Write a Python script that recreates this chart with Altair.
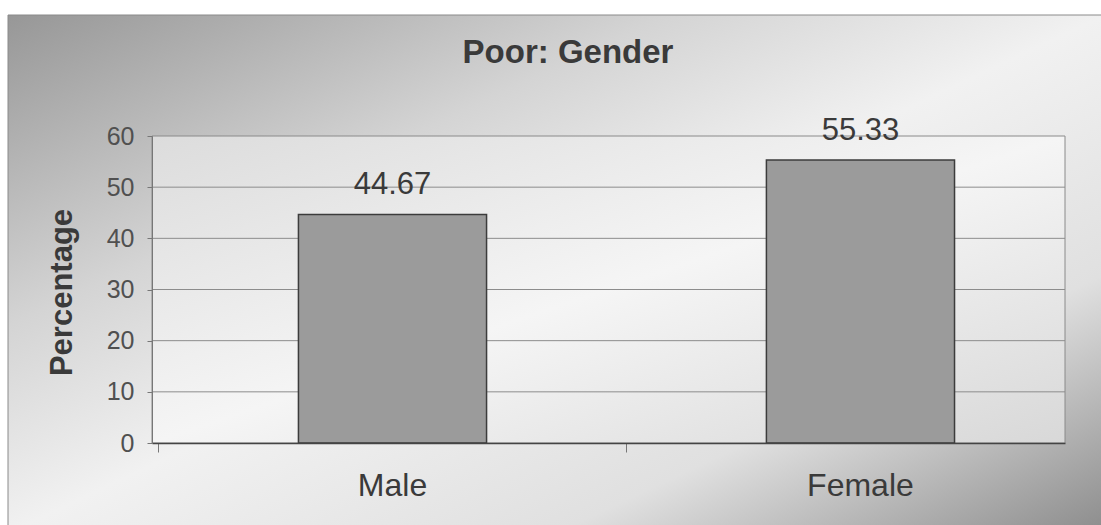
import altair as alt
import pandas as pd

categories = ["Male", "Female"]
values = [44.67, 55.33]
label_texts = ["44.67", "55.33"]
grid_values = [10, 20, 30, 40, 50]
y_ticks = [0, 10, 20, 30, 40, 50, 60]
title_text = ["Poor: Gender"]

W, H = 913, 307
FONT = "Liberation Sans"

bars_df = pd.DataFrame({"cat": categories, "val": values, "lab": label_texts})
grid_df = pd.DataFrame({"g": grid_values})
title_df = pd.DataFrame({"t": title_text})

xscale = alt.Scale(domain=categories, paddingInner=0.598, paddingOuter=0.2745, align=0.57)
yscale = alt.Scale(domain=[0, 60], nice=False, zero=True)

outer_grad = alt.LinearGradient(
    gradient="linear", x1=0, y1=0, x2=1, y2=1,
    stops=[
        alt.GradientStop(offset=0, color="#979797"),
        alt.GradientStop(offset=0.3, color="#d4d4d4"),
        alt.GradientStop(offset=0.5, color="#f1f1f1"),
        alt.GradientStop(offset=0.75, color="#e0e0e0"),
        alt.GradientStop(offset=1, color="#8c8c8c"),
    ],
)
plot_grad = alt.LinearGradient(
    gradient="linear", x1=0, y1=0, x2=1, y2=1,
    stops=[
        alt.GradientStop(offset=0, color="#dcdcdc"),
        alt.GradientStop(offset=0.5, color="#f5f5f5"),
        alt.GradientStop(offset=1, color="#d8d8d8"),
    ],
)

outer_bg = alt.Chart(title_df).mark_rect(
    fill=outer_grad, stroke="#8a8a8a", strokeWidth=1
).encode(
    x=alt.value(-144), x2=alt.value(W + 40), y=alt.value(-121), y2=alt.value(H + 90)
)

plot_bg = alt.Chart(title_df).mark_rect(
    fill=plot_grad, stroke="#8a8a8a", strokeWidth=1
).encode(
    x=alt.value(0), x2=alt.value(W), y=alt.value(0), y2=alt.value(H)
)

grid = alt.Chart(grid_df).mark_rule(color="#8c8c8c", strokeWidth=1).encode(
    y=alt.Y("g:Q", scale=yscale),
    x=alt.value(0), x2=alt.value(W),
)

bars = alt.Chart(bars_df).mark_bar(
    fill="#9b9b9b", stroke="#3c3c3c", strokeWidth=1.5
).encode(
    x=alt.X("cat:N", scale=xscale, sort=categories,
            axis=alt.Axis(title=None, labelAngle=0, labelFontSize=32, labelFont=FONT,
                          labelColor="#3a3a3a", labelBaseline="alphabetic",
                          tickSize=9, labelPadding=43, bandPosition=-0.745,
                          domainColor="#444444", domainWidth=1.5,
                          tickColor="#777777", grid=False, zindex=2)),
    y=alt.Y("val:Q", scale=yscale,
            axis=alt.Axis(values=y_ticks, title="Percentage", titleFont=FONT,
                          titleFontSize=31, titleFontWeight="bold", titleColor="#3a3a3a",
                          titleAngle=270, titleAlign="center", titleBaseline="alphabetic",
                          titleX=-81, titleY=156,
                          labelFontSize=25, labelFont=FONT, labelColor="#505050",
                          labelPadding=13, tickSize=5, tickColor="#777777",
                          domainColor="#777777", grid=False, zindex=2)),
)

labels = alt.Chart(bars_df).mark_text(
    baseline="alphabetic", dy=-20, fontSize=31, font=FONT, color="#3a3a3a"
).encode(
    x=alt.X("cat:N", scale=xscale, sort=categories),
    y=alt.Y("val:Q", scale=yscale),
    text="lab:N",
)

title = alt.Chart(title_df).mark_text(
    fontSize=33, fontWeight="bold", font=FONT, color="#3a3a3a", baseline="alphabetic"
).encode(
    text="t:N", x=alt.value(416), y=alt.value(-73)
)

chart = alt.layer(outer_bg, plot_bg, grid, bars, labels, title).properties(
    width=W, height=H,
    autosize=alt.AutoSizeParams(type="none"),
    padding={"left": 152, "top": 136, "right": 36, "bottom": 82},
    background="white",
).configure_view(stroke=None)

chart.save("out.html", embed_options={"renderer": "svg", "actions": False})
